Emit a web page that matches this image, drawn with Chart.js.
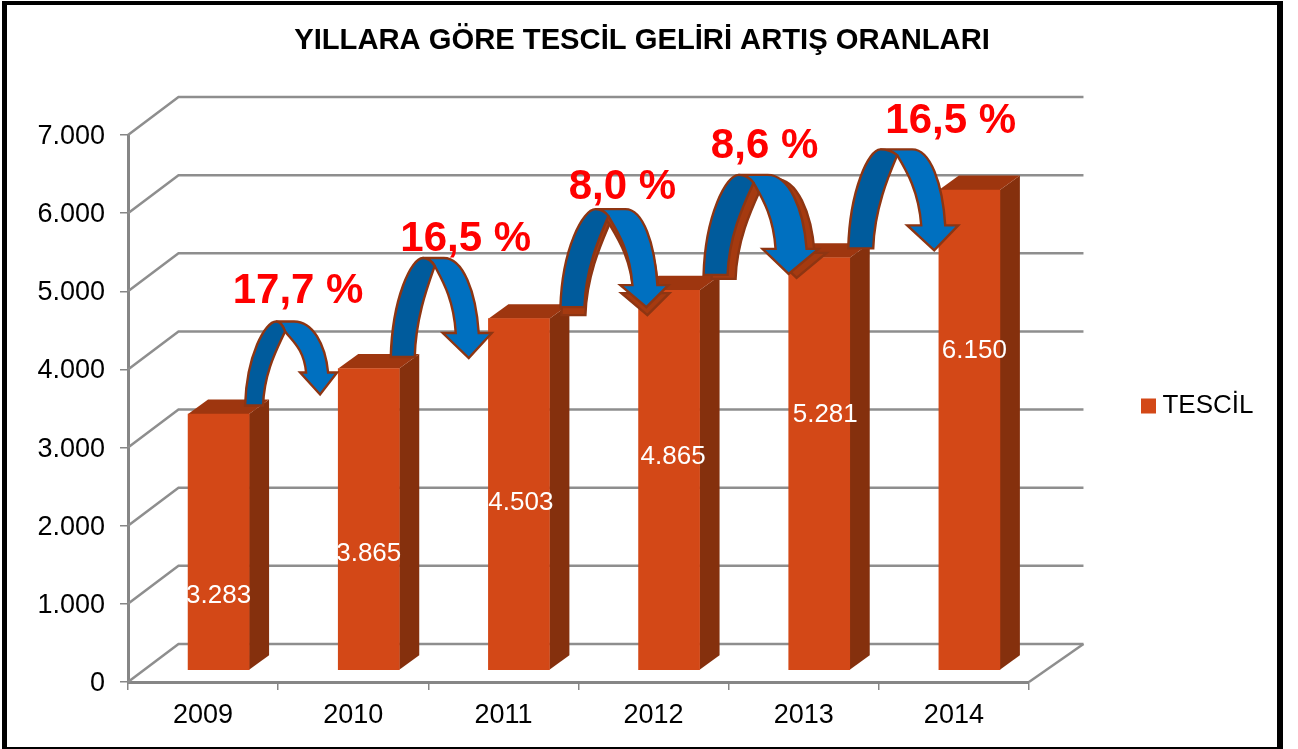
<!DOCTYPE html>
<html><head><meta charset="utf-8">
<style>html,body{margin:0;padding:0;background:#fff}canvas{display:block}</style>
<script src="https://cdn.jsdelivr.net/npm/chart.js@4"></script>
</head><body><canvas id="c" width="1298" height="749"></canvas>
<script>
const TITLE = "YILLARA GÖRE TESCİL GELİRİ ARTIŞ ORANLARI";
const SERIES_NAME = "TESCİL";
const YEARS = ["2009","2010","2011","2012","2013","2014"];
const VALUES = [3283,3865,4503,4865,5281,6150];
const VALUE_TEXT = ["3.283","3.865","4.503","4.865","5.281","6.150"];
const VALUE_LABEL_AT = [1114,1652,2305,2894,3431,4251];
const VALUE_LABEL_DX = [-2,-2,0,2,4,3];
const GROWTH = ["17,7 %","16,5 %","8,0 %","8,6 %","16,5 %"];

const FONT = '"Liberation Sans", Arial, sans-serif';
const DEPTH = {x:50.5, y:-38};       // wall offset
const BAR_SHIFT = {x:15.5, y:-11.5}; // bar stands inside the floor
const BAR_DEPTH = {x:20, y:-14.5};
const GROWTH_OFFSET = [[95,-134],[112.5,-141],[119,-143],[111,-155],[147,-148]];
// arrow shapes, relative to the top centre of the bar they start from
const ARROWS = [
 {xL:42,yB:-20,xI:60,aL:73,aR:91,top:-104,ix:82,iy:-94,rO:125,hY:-53,hR:134,tx:117,ty:-31,hL:97,rI:103},
 {xL:37.5,yB:-23,xI:61.5,aL:69.5,aR:90.5,top:-122,ix:81.5,iy:-114,rO:125.5,hY:-47,hR:138.5,tx:115.5,ty:-22,hL:89.5,rI:102.5},
 {xL:57,yB:-23,xI:81,aL:92,aR:122,top:-121,ix:105,iy:-114,rO:154,hY:-45,hR:165,tx:143,ty:-23,hL:117,rI:129,ex:1,ey:8},
 {xL:50,yB:-27,xI:74,aL:85,aR:114,top:-127,ix:100,iy:-119,rO:153,hY:-53,hR:165,tx:135,ty:-28,hL:109,rI:122,ex:8,ey:4},
 {xL:44.5,yB:-21,xI:69.5,aL:76.5,aR:108.5,top:-120,ix:93.5,iy:-114,rO:141.5,hY:-44,hR:154.5,tx:130.5,ty:-19,hL:103.5,rI:117.5}
];

function rightBand(ctx,a,ox,oy){
  const h=a.hY-a.top, X=v=>ox+v, Y=v=>oy+v;
  ctx.beginPath();
  ctx.moveTo(X(a.aL),Y(a.top));
  ctx.lineTo(X(a.aR),Y(a.top));
  ctx.bezierCurveTo(X(a.aR+(a.rO-a.aR)*.55),Y(a.top),X(a.rO-(a.rO-a.aR)*.08),Y(a.hY-.55*h),X(a.rO),Y(a.hY));
  ctx.lineTo(X(a.hR),Y(a.hY));
  ctx.lineTo(X(a.tx),Y(a.ty));
  ctx.lineTo(X(a.hL),Y(a.hY));
  ctx.lineTo(X(a.rI),Y(a.hY));
  ctx.bezierCurveTo(X(a.rI-(a.rI-a.ix)*.1),Y(a.hY-.45*h),X(a.ix+(a.rI-a.ix)*.38),Y(a.iy+.2*h),X(a.ix),Y(a.iy));
  ctx.quadraticCurveTo(X(a.aL+(a.ix-a.aL)*.6),Y(a.top),X(a.aL),Y(a.top));
  ctx.closePath();
}
function leftBand(ctx,a,ox,oy){
  const h=a.yB-a.top, X=v=>ox+v, Y=v=>oy+v;
  ctx.beginPath();
  ctx.moveTo(X(a.xL),Y(a.yB));
  ctx.bezierCurveTo(X(a.xL+(a.aL-a.xL)*.05),Y(a.yB-.6*h),X(a.aL-(a.aL-a.xL)*.35),Y(a.top),X(a.aL),Y(a.top));
  ctx.quadraticCurveTo(X(a.aL+(a.ix-a.aL)*.6),Y(a.top),X(a.ix),Y(a.iy));
  ctx.bezierCurveTo(X(a.ix-(a.ix-a.xI)*.35),Y(a.iy+.2*h),X(a.xI+(a.ix-a.xI)*.05),Y(a.yB-.4*h),X(a.xI),Y(a.yB));
  ctx.closePath();
}
const scene = {
  id:'scene',
  afterLayout(chart){
    const l=chart.legend; l.left=1131; l.top=383; l.right=1253.5; l.bottom=430;
    chart.titleBlock.left=0; chart.titleBlock.right=1284;
  },
  beforeDraw(chart){
    const {ctx,width,height,chartArea}=chart;
    ctx.save(); ctx.fillStyle='#fff'; ctx.fillRect(0,0,width,height); ctx.restore();
    chart.scales.y.getLabelItems(chartArea).forEach(it=>{ it.textOffset=1.5; });
  },
  beforeDatasetsDraw(chart){
    const {ctx,chartArea:ca,scales:{y}}=chart;
    ctx.save();
    ctx.strokeStyle='#8e8e8e'; ctx.lineWidth=2.5;
    y.ticks.forEach(t=>{
      const py=y.getPixelForValue(t.value);
      ctx.beginPath(); ctx.moveTo(ca.left,py);
      ctx.lineTo(ca.left+DEPTH.x,py+DEPTH.y);
      ctx.lineTo(ca.right+DEPTH.x+4,py+DEPTH.y);
      ctx.stroke();
    });
    const y0=y.getPixelForValue(0);
    ctx.beginPath(); ctx.moveTo(ca.right,y0); ctx.lineTo(ca.right+DEPTH.x+4,y0+DEPTH.y); ctx.stroke();
    // bar sides and tops
    chart.getDatasetMeta(0).data.forEach(el=>{
      const w=el.width/2, L=el.x-w+BAR_SHIFT.x, R=el.x+w+BAR_SHIFT.x, T=el.y+BAR_SHIFT.y, B=el.base+BAR_SHIFT.y;
      ctx.fillStyle='#85300d';
      ctx.beginPath(); ctx.moveTo(R,T); ctx.lineTo(R+BAR_DEPTH.x,T+BAR_DEPTH.y);
      ctx.lineTo(R+BAR_DEPTH.x,B+BAR_DEPTH.y); ctx.lineTo(R,B); ctx.closePath(); ctx.fill();
      ctx.fillStyle='#9e360f';
      ctx.beginPath(); ctx.moveTo(L,T); ctx.lineTo(L+BAR_DEPTH.x,T+BAR_DEPTH.y);
      ctx.lineTo(R+BAR_DEPTH.x,T+BAR_DEPTH.y); ctx.lineTo(R,T); ctx.closePath(); ctx.fill();
    });
    ctx.restore();
    ctx.save();
    ctx.translate(BAR_SHIFT.x,BAR_SHIFT.y);
  },
  afterDatasetsDraw(chart){
    const {ctx,scales:{y}}=chart;
    ctx.restore();
    const els=chart.getDatasetMeta(0).data;
    ctx.save();
    // value labels
    ctx.font='26px '+FONT; ctx.fillStyle='#fff'; ctx.textAlign='center'; ctx.textBaseline='middle';
    els.forEach((el,i)=>{
      ctx.fillText(VALUE_TEXT[i],el.x+16.5+VALUE_LABEL_DX[i]+1,y.getPixelForValue(VALUE_LABEL_AT[i])+1);
    });
    // growth arrows
    ctx.lineJoin='miter'; ctx.lineWidth=2.4; ctx.strokeStyle='#8e3512';
    ARROWS.forEach((a,i)=>{
      const ox=els[i].x, oy=els[i].y;
      if(a.ex!==undefined){
        ctx.fillStyle='#a53a10';
        rightBand(ctx,a,ox+a.ex,oy+a.ey); ctx.fill(); ctx.stroke();
        leftBand(ctx,a,ox+a.ex,oy+a.ey); ctx.fill(); ctx.stroke();
      }
      ctx.fillStyle='#0070c0';
      rightBand(ctx,a,ox,oy); ctx.fill(); ctx.stroke();
      ctx.fillStyle='#005b9c';
      leftBand(ctx,a,ox,oy); ctx.fill(); ctx.stroke();
    });
    // growth labels
    ctx.font='bold 42px '+FONT; ctx.fillStyle='#ff0000';
    GROWTH.forEach((g,i)=>{
      ctx.fillText(g,els[i].x+GROWTH_OFFSET[i][0],els[i].y+GROWTH_OFFSET[i][1]);
    });
    ctx.restore();
  },
  afterDraw(chart){
    const {ctx}=chart;
    ctx.save(); ctx.fillStyle='#000';
    ctx.fillRect(2,1,5,748);
    ctx.fillRect(2,1,1281,4);
    ctx.fillRect(1277,1,6,748);
    ctx.fillRect(2,747,1281,2);
    ctx.restore();
  }
};
Chart.defaults.font.family=FONT;
new Chart(document.getElementById('c'),{
  type:'bar',
  data:{labels:YEARS,datasets:[{label:SERIES_NAME,data:VALUES,backgroundColor:'#d34817',barThickness:61,clip:false}]},
  plugins:[scene],
  options:{
    responsive:false,animation:false,
    layout:{padding:{left:0,right:130,top:0,bottom:0}},
    plugins:{
      title:{display:true,text:TITLE,color:'#000',font:{size:29.2,weight:'bold',family:FONT},padding:{top:23,bottom:77}},
      legend:{display:true,position:'right',align:'start',
        labels:{boxWidth:15,boxHeight:15,padding:10,color:'#000',textAlign:'right',font:{size:26,family:FONT}}},
      tooltip:{enabled:false}
    },
    scales:{
      x:{
        grid:{display:true,drawOnChartArea:false,drawTicks:true,tickLength:8,color:'#868686',lineWidth:1.5},
        border:{display:true,color:'#868686',width:3},
        ticks:{color:'#000',font:{size:27,family:FONT},padding:9,maxRotation:0},
        afterFit(s){s.height=67;}
      },
      y:{
        min:0,max:7000,
        grid:{display:true,drawOnChartArea:false,drawTicks:true,tickLength:8,color:'#868686',lineWidth:1.5},
        border:{display:true,color:'#868686',width:3},
        ticks:{stepSize:1000,color:'#000',font:{size:27,family:FONT},padding:15,
          callback:v=>String(v).replace(/\B(?=(\d{3})+$)/g,'.')},
        afterFit(s){s.width=128;}
      }
    }
  }
});
</script></body></html>
